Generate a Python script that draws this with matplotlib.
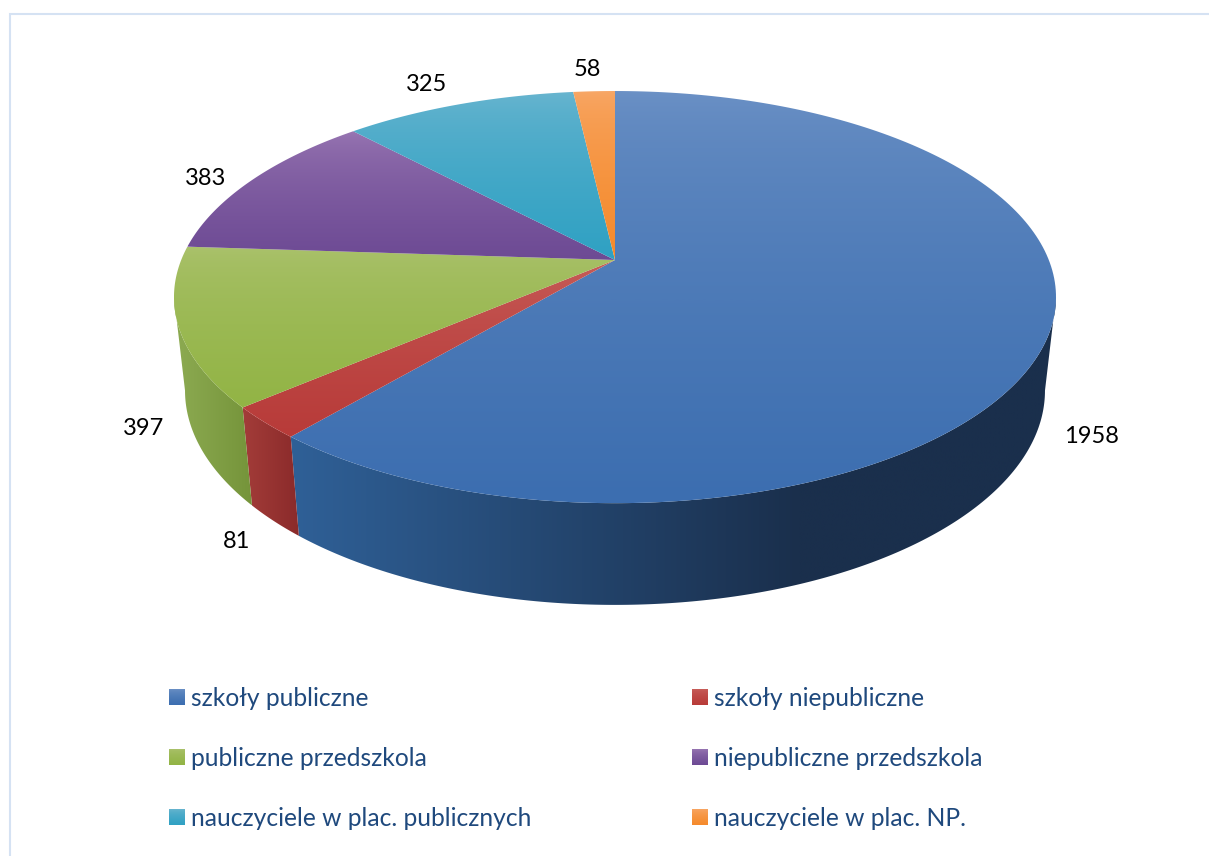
import numpy as np
import matplotlib
matplotlib.use('Agg')
import matplotlib.pyplot as plt
from matplotlib.colors import LinearSegmentedColormap
from matplotlib.patches import Polygon

plt.rcParams['font.family'] = ['Lato', 'DejaVu Sans']

categories = ['szkoły publiczne', 'szkoły niepubliczne', 'publiczne przedszkola',
              'niepubliczne przedszkola', 'nauczyciele w plac. publicznych', 'nauczyciele w plac. NP.']
values = [1958, 81, 397, 383, 325, 58]

# (light, dark) of the top face and of the side face
top_colors = [('#6d92c6', '#3c6eb0'), ('#c8605c', '#b83b39'), ('#abc26d', '#92b445'),
              ('#9a78b4', '#6d4a94'), ('#6cb6d0', '#2fa1c3'), ('#f8a868', '#f58a2b')]
side_colors = [('#2f6097', '#1a2f4c'), ('#a33c39', '#8a2a2a'), ('#8dab52', '#75943a'),
               ('#5a3a78', '#4a2f64'), ('#2a8199', '#236b80'), ('#c26d22', '#a85c1c')]

label_pos = [(1091, 436), (237, 542), (144, 428), (206, 178), (427, 84), (587, 69)]
legend_pos = [(169, 697), (692, 697), (169, 757), (692, 757), (169, 817), (692, 817)]

cx, cy = 615, 260   # pie centre in pixels
R, A, k = 433.8, 199.4, 0.18   # perspective of the top disc
# part of the rim that faces the viewer, between the two widest points
front = (np.arccos(-k), 2 * np.pi - np.arccos(-k))


def top_rim(theta):
    # theta runs clockwise from 12 o'clock
    d = 1 + k * np.cos(theta)
    return cx + R * np.sin(theta) / d, cy - A * np.cos(theta) / d


def bottom_rim(theta):
    x, y = top_rim(theta)
    return cx + (x - cx) * 0.975, y + 92 + 0.04 * (y - cy)


def gradient(ax, poly, c0, c1, vertical, x_stop=None, zorder=1):
    cmap = LinearSegmentedColormap.from_list('g', [c0, c1])
    x0, y0 = poly.min(axis=0)
    x1, y1 = poly.max(axis=0)
    patch = Polygon(poly, closed=True, facecolor='none', edgecolor='none', transform=ax.transData)
    ax.add_patch(patch)
    if vertical:
        # the light part fades quickly, most of the face is near the dark colour
        t = (np.linspace(0, 1, 256) ** 0.6).reshape(-1, 1)
    else:
        xs = np.linspace(x0, x1, 512)
        stop = x1 if x_stop is None else min(x1, x_stop)
        t = np.clip((xs - x0) / (stop - x0), 0, 1).reshape(1, -1)
    im = ax.imshow(t, cmap=cmap, vmin=0, vmax=1, extent=(x0, x1, y1, y0), origin='upper',
                   aspect='auto', interpolation='bilinear', zorder=zorder)
    im.set_clip_path(patch)


fig = plt.figure(figsize=(12.09, 8.56), dpi=100)
ax = fig.add_axes([0, 0, 1, 1])
ax.axis('off')

edges = np.concatenate([[0], np.cumsum(values)]) / np.sum(values) * 2 * np.pi

# side walls first, the top faces cover whatever sits behind them
for i in range(len(values)):
    a0 = max(edges[i], front[0])
    a1 = min(edges[i + 1], front[1])
    if a1 <= a0:
        continue
    th = np.linspace(a0, a1, 200)
    tx, ty = top_rim(th)
    bx, by = bottom_rim(th)
    poly = np.column_stack([np.r_[tx, bx[::-1]], np.r_[ty, by[::-1]]])
    gradient(ax, poly, side_colors[i][0], side_colors[i][1], False, x_stop=800, zorder=1 + i * 0.01)

for i in range(len(values)):
    th = np.linspace(edges[i], edges[i + 1], 200)
    tx, ty = top_rim(th)
    poly = np.column_stack([np.r_[cx, tx], np.r_[cy, ty]])
    gradient(ax, poly, top_colors[i][0], top_colors[i][1], True, zorder=2 + i * 0.01)

for v, (x, y) in zip(values, label_pos):
    ax.text(x, y, str(v), ha='center', va='center', fontsize=17, color='black', zorder=5)

for i, (x, y) in enumerate(legend_pos):
    sq = np.array([[x, y - 8], [x + 16, y - 8], [x + 16, y + 8], [x, y + 8]])
    gradient(ax, sq, top_colors[i][0], top_colors[i][1], True, zorder=5)
    ax.text(x + 22, y + 1, categories[i], ha='left', va='center', fontsize=17.7, color='#1f497d', zorder=5)

# frame of the page
ax.plot([10, 10, 1209], [856, 14, 14], color='#d5e2f3', lw=1.5, solid_joinstyle='miter', zorder=0)

ax.set_xlim(0, 1209)
ax.set_ylim(856, 0)
fig.savefig('out.png', dpi=100, facecolor='white')
